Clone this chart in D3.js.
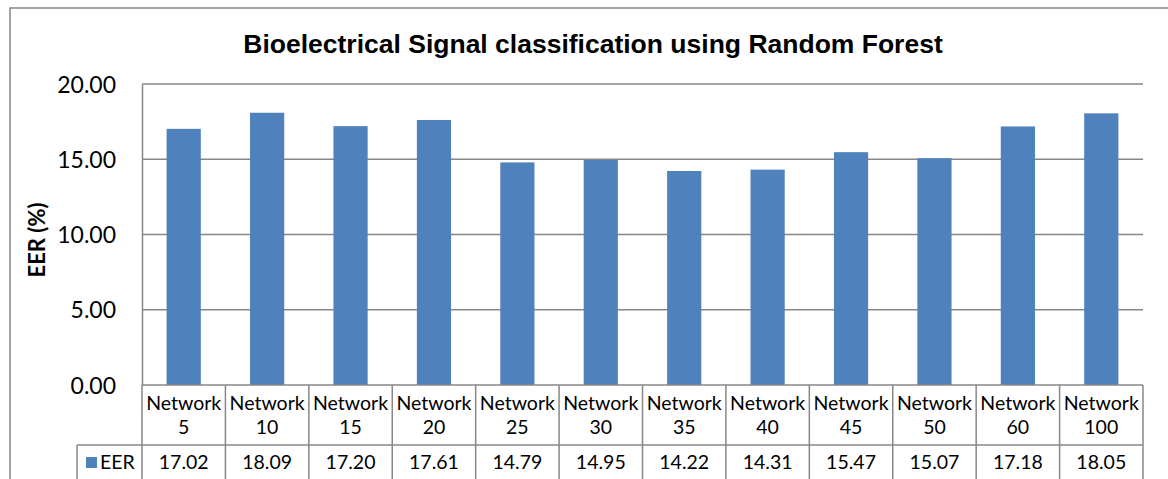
<!DOCTYPE html>
<html><head><meta charset="utf-8">
<script src="https://cdn.jsdelivr.net/npm/d3@7"></script>
<style>body{margin:0;background:#fff;}svg{display:block;}</style>
</head><body>
<svg id="c" width="1168" height="479"></svg>
<script>
const categories = ["Network 5","Network 10","Network 15","Network 20","Network 25","Network 30","Network 35","Network 40","Network 45","Network 50","Network 60","Network 100"];
const eer = [17.02,18.09,17.20,17.61,14.79,14.95,14.22,14.31,15.47,15.07,17.18,18.05];
const yTicks = [0,5,10,15,20];
const seriesName = "EER";
const title = "Bioelectrical Signal classification using Random Forest";
const yTitle = "EER (%)";

const svg = d3.select("#c");
const L = 142, R = 1143, T = 84, B = 385;
const grey = "#878787";
const fontBody = "Lato, 'Open Sans', sans-serif";

// outer border
svg.append("rect").attr("x",10).attr("y",8).attr("width",1170).attr("height",490)
  .attr("fill","none").attr("stroke",grey).attr("stroke-width",1.5);

const x = d3.scaleBand().domain(categories).range([L,R]).paddingInner(0.59).paddingOuter(0.295);
const xc = d3.scaleBand().domain(categories).range([L,R]);
const y = d3.scaleLinear().domain([0,20]).range([B,T]);

// gridlines
svg.append("g").selectAll("line").data(yTicks.filter(d=>d>0)).join("line")
  .attr("x1",L).attr("x2",R).attr("y1",d=>y(d)).attr("y2",d=>y(d))
  .attr("stroke",grey).attr("stroke-width",1.5);

// y axis
const yAxis = d3.axisLeft(y).tickValues(yTicks).tickFormat(d3.format(".2f")).tickSize(0).tickPadding(26);
const ga = svg.append("g").attr("transform",`translate(${L},0)`).call(yAxis);
ga.select(".domain").attr("stroke",grey).attr("stroke-width",1.5);
ga.selectAll("text").attr("font-family",fontBody).attr("font-size",23).attr("fill","#000").attr("dy","0.35em");

// bars
svg.append("g").selectAll("rect").data(eer).join("rect")
  .attr("x",(d,i)=>x(categories[i])).attr("width",x.bandwidth())
  .attr("y",d=>y(d)).attr("height",d=>B-y(d)).attr("fill","#4F81BD");

// data table
const tb = svg.append("g").attr("stroke",grey).attr("stroke-width",1.5);
const rowY = 445;
tb.append("line").attr("x1",L).attr("x2",R).attr("y1",B).attr("y2",B);
tb.append("line").attr("x1",77).attr("x2",R).attr("y1",rowY).attr("y2",rowY);
tb.append("line").attr("x1",77).attr("x2",77).attr("y1",rowY).attr("y2",480);
const bounds = categories.map(c=>xc(c)).concat([R]);
tb.selectAll("line.v").data(bounds).join("line").attr("class","v")
  .attr("x1",d=>d).attr("x2",d=>d).attr("y1",B).attr("y2",480);

const lab = svg.append("g").attr("font-family",fontBody).attr("font-size",19.5).attr("fill","#000").attr("text-anchor","middle");
categories.forEach((c,i)=>{
  const parts = c.split(" ");
  const cx = xc(c)+xc.bandwidth()/2;
  lab.append("text").attr("x",cx).attr("y",410).text(parts[0]);
  lab.append("text").attr("x",cx).attr("y",434).text(parts[1]);
  lab.append("text").attr("x",cx).attr("y",469).text(d3.format(".2f")(eer[i]));
});
svg.append("rect").attr("x",86).attr("y",457).attr("width",11).attr("height",11).attr("fill","#4F81BD");
svg.append("text").attr("x",100).attr("y",469).attr("font-family",fontBody).attr("font-size",19.5).text(seriesName);

// titles
svg.append("text").attr("x",593).attr("y",53).attr("text-anchor","middle")
  .attr("font-family","'Liberation Sans', Arial, sans-serif").attr("font-weight","bold").attr("font-size",26.5).text(title);
svg.append("text").attr("transform","translate(45,240) rotate(-90)").attr("text-anchor","middle")
  .attr("font-family",fontBody).attr("font-weight","bold").attr("font-size",22).text(yTitle);
</script>
</body></html>
